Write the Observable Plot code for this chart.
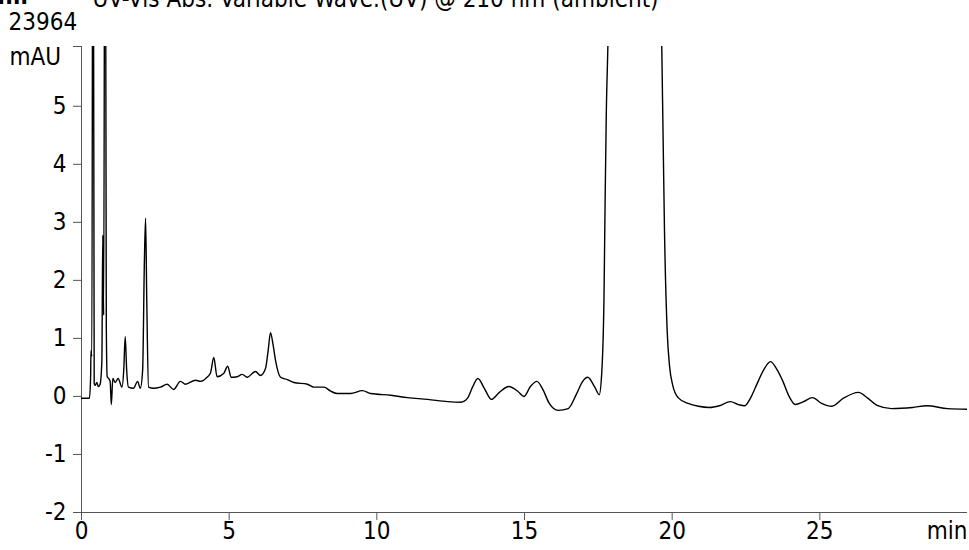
<!DOCTYPE html>
<html>
<head>
<meta charset="utf-8">
<script src="https://cdn.jsdelivr.net/npm/d3@7"></script>
<script src="https://cdn.jsdelivr.net/npm/@observablehq/plot@0.6"></script>
<style>
  body { margin: 0; background: #fff; }
  #chart svg { display: block; }
</style>
</head>
<body>
<div id="chart"></div>
<script>
// Retention time (min)
const times = [0.00, 0.27, 0.31, 0.32, 0.35, 0.39, 0.43, 0.46, 0.52, 0.57, 0.63, 0.69, 0.72, 0.75, 0.80, 0.84, 0.87, 0.92, 0.97, 1.01,
  1.06, 1.14, 1.24, 1.37, 1.43, 1.48, 1.53, 1.59, 1.76, 1.90, 1.99, 2.07, 2.13, 2.17, 2.21, 2.27, 2.44, 2.67, 2.90, 3.12,
  3.35, 3.52, 3.86, 4.03, 4.25, 4.37, 4.48, 4.59, 4.82, 4.95, 5.07, 5.27, 5.44, 5.61, 5.89, 6.06, 6.23, 6.32, 6.40, 6.49,
  6.57, 6.74, 6.97, 7.19, 7.65, 7.87, 8.21, 8.44, 8.66, 9.11, 9.51, 9.79, 10.47, 11.04, 11.72, 12.40, 12.85, 13.07, 13.24, 13.42,
  13.64, 13.88, 14.15, 14.47, 14.77, 14.98, 15.20, 15.42, 15.62, 15.84, 16.14, 16.48, 16.75, 16.97, 17.14, 17.37, 17.53, 17.61, 17.69, 17.73,
  17.77, 17.82, 18.74, 19.65, 19.69, 19.74, 19.83, 19.91, 20.02, 20.20, 20.54, 20.89, 21.26, 21.60, 21.97, 22.24, 22.45, 22.65, 22.85, 23.09,
  23.33, 23.53, 23.75, 23.94, 24.17, 24.45, 24.75, 25.06, 25.41, 25.80, 26.31, 26.62, 26.96, 27.43, 28.14, 28.62, 29.33, 30.00];
// Absorbance (axis units)
const signal = [-0.03, -0.03, 0.36, 0.79, 0.69, 12, 0.22, 0.19, 0.24, 0.17, 0.21, 0.62, 2.78, 1.4, 12, 1.2, 0.34, 0.31, 0.26, -0.14,
  0.31, 0.24, 0.31, 0.16, 0.45, 1.03, 0.45, 0.16, 0.14, 0.26, 0.14, 0.45, 2.34, 3.07, 1.65, 0.16, 0.14, 0.16, 0.21, 0.12,
  0.26, 0.21, 0.28, 0.26, 0.33, 0.41, 0.67, 0.34, 0.40, 0.52, 0.33, 0.34, 0.38, 0.33, 0.43, 0.36, 0.48, 0.79, 1.10, 0.88,
  0.62, 0.33, 0.29, 0.24, 0.21, 0.16, 0.16, 0.09, 0.05, 0.05, 0.10, 0.05, 0.02, -0.02, -0.05, -0.09, -0.10, -0.03, 0.16, 0.31,
  0.14, -0.05, 0.07, 0.17, 0.09, 0.00, 0.17, 0.26, 0.12, -0.12, -0.24, -0.21, 0.03, 0.26, 0.33, 0.17, 0.03, 0.36, 1.65, 3.38,
  4.88, 5.96, 30, 5.96, 4.58, 2.86, 1.14, 0.53, 0.19, -0.02, -0.12, -0.17, -0.19, -0.16, -0.09, -0.14, -0.16, -0.03, 0.19, 0.45,
  0.60, 0.48, 0.26, 0.02, -0.14, -0.09, -0.02, -0.12, -0.17, -0.03, 0.07, -0.03, -0.16, -0.21, -0.19, -0.16, -0.21, -0.22];

const xTicks = [0, 5, 10, 15, 20, 25];
const yTicks = [-2, -1, 0, 1, 2, 3, 4, 5];
const yTop = 6.03;
const xMax = 30;
const titleText = "UV-Vis Abs. Variable Wave.(UV) @ 210 nm (ambient)";
const headText = "l.ll";
const maxText = "23964";
const yUnit = "mAU";
const xUnit = "min";

const data = times.map((t, i) => ({t, v: signal[i]}));
const FONT = "'DejaVu Sans Condensed', 'DejaVu Sans', sans-serif";
const AX = "#555";

const chart = Plot.plot({
  width: 969,
  height: 550,
  marginLeft: 81,
  marginRight: 2,
  marginTop: 46,
  marginBottom: 38,
  style: {fontFamily: FONT, fontSize: "24px", background: "#fff", color: "#000"},
  x: {domain: [0, xMax]},
  y: {domain: [-2, yTop]},
  marks: [
    Plot.ruleX([0], {stroke: AX, strokeWidth: 1}),
    Plot.ruleY([-2], {stroke: AX, strokeWidth: 1}),
    Plot.axisX({ticks: xTicks, tickSize: 8, tickPadding: 1, tickFormat: d => String(d), label: null, stroke: AX, fill: "#000", fontSize: 24}),
    Plot.axisY({ticks: [...yTicks, yTop], tickSize: 8, tickPadding: 7, tickFormat: d => (d === yTop ? "" : String(d)), label: null, stroke: AX, fill: "#000", fontSize: 24}),
    Plot.line(data, {x: "t", y: "v", stroke: "#000", strokeWidth: 1.4, curve: "monotone-x", clip: true}),
    Plot.text([titleText], {frameAnchor: "top-left", dx: 11, dy: -57, textAnchor: "start", lineAnchor: "top", fontSize: 24, fill: "#000"}),
    Plot.text([headText], {frameAnchor: "top-left", dx: -84, dy: -60, textAnchor: "start", lineAnchor: "top", fontSize: 24, fontWeight: "bold", fill: "#000"}),
    Plot.text([maxText], {frameAnchor: "top-left", dx: -73, dy: -34, textAnchor: "start", lineAnchor: "top", fontSize: 24, fill: "#000"}),
    Plot.text([yUnit], {frameAnchor: "top-left", dx: -72, dy: 1, textAnchor: "start", lineAnchor: "top", fontSize: 24, fill: "#000"}),
    Plot.text([xUnit], {frameAnchor: "bottom-right", dx: 0, dy: 9, textAnchor: "end", lineAnchor: "top", fontSize: 24, fill: "#000"})
  ]
});
document.getElementById("chart").appendChild(chart);
</script>
</body>
</html>
